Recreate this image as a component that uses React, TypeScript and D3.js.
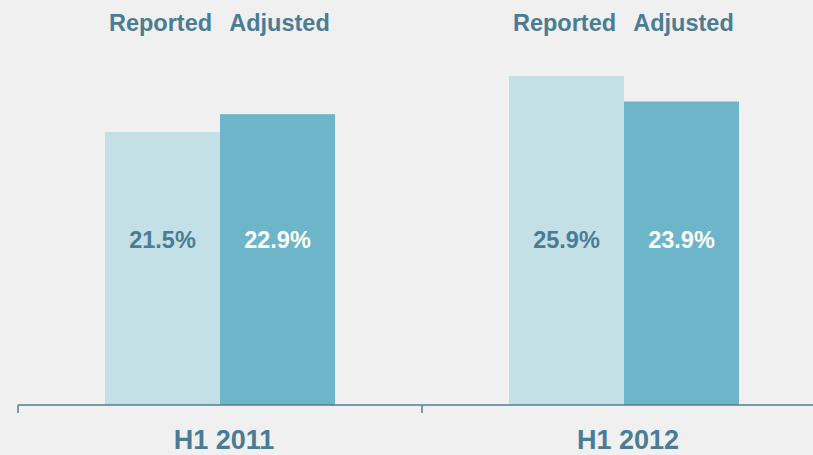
import * as d3 from 'd3'

const periods = ['H1 2011', 'H1 2012']
const seriesNames = ['Reported', 'Adjusted']
const reported = [21.5, 25.9]
const adjusted = [22.9, 23.9]

const width = 813
const height = 455
const baseline = 405
const colors = ['#c2e0e6', '#6db5c8']
const textColor = '#4a7c94'

export default function App() {
    const x = d3.scaleBand().domain(periods).range([18, 826])
    const inner = d3.scaleBand().domain(seriesNames).range([0, 230])
    const y = d3.scaleLinear().domain([0, 30]).range([baseline, baseline - 381])

    const rows = periods.map((p, i) => ({ period: p, values: [reported[i], adjusted[i]] }))
    const font = 'Liberation Sans, Arial, sans-serif'

    return (
        <svg width={width} height={height} style={{ position: 'absolute', left: 0, top: 0, background: '#f0f0f0' }}>
            {rows.map((r) => {
                const gx = x(r.period)! + x.bandwidth() / 2 - 115
                return (
                    <g key={r.period} transform={`translate(${gx},0)`}>
                        {seriesNames.map((s, j) => (
                            <g key={s}>
                                <rect x={inner(s)} width={inner.bandwidth()} y={y(r.values[j])}
                                    height={y(0) - y(r.values[j])} fill={colors[j]} />
                                <text x={inner(s)! + inner.bandwidth() / 2} y={248} textAnchor="middle"
                                    fontFamily={font} fontWeight="bold" fontSize={23.5}
                                    fill={j === 0 ? textColor : '#ffffff'}>
                                    {r.values[j].toFixed(1)}%
                                </text>
                                <text x={inner(s)! + inner.bandwidth() / 2 + (j === 0 ? -2 : 2)} y={31} textAnchor="middle"
                                    fontFamily={font} fontWeight="bold" fontSize={23.5} fill={textColor}>
                                    {s}
                                </text>
                            </g>
                        ))}
                    </g>
                )
            })}
            <line x1={18} x2={width} y1={baseline} y2={baseline} stroke="#4f7f97" strokeWidth={1.5} />
            {periods.map((p) => (
                <line key={p} x1={x(p)} x2={x(p)} y1={baseline} y2={baseline + 8} stroke="#4f7f97" strokeWidth={1.5} />
            ))}
            {periods.map((p) => (
                <text key={p} x={x(p)! + x.bandwidth() / 2 + 4} y={449} textAnchor="middle"
                    fontFamily={font} fontWeight="bold" fontSize={27} fill={textColor}>
                    {p}
                </text>
            ))}
        </svg>
    )
}
